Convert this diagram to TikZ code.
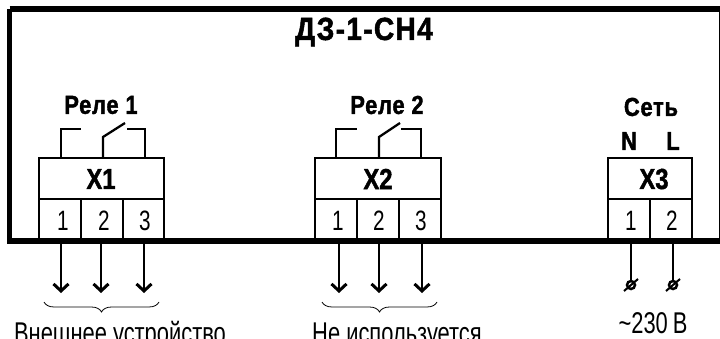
\documentclass[tikz,border=0pt]{standalone}
\usepackage{fontspec}
\setmainfont{Liberation Sans}
\newfontfamily\narrowbold[FakeStretch=0.84,LetterSpace=3,FakeBold=1.5]{Liberation Sans Bold}
\newfontfamily\titlebold[FakeStretch=0.88,LetterSpace=4,FakeBold=1.5]{Liberation Sans Bold}
\newfontfamily\boxbold[FakeStretch=0.82,FakeBold=1.5]{Liberation Sans Bold}
\newfontfamily\narrowreg[FakeStretch=0.74]{Liberation Sans}
\newfontfamily\lowreg[FakeStretch=0.73]{Liberation Sans}
\usetikzlibrary{decorations.pathreplacing,arrows.meta}
\tikzset{
 x=1pt,y=-1pt,
 frameline/.style={line width=5.5pt,black},
 boxline/.style={draw=black,line width=2.5pt,inner sep=0pt,outer sep=0pt,fill=white},
 wire/.style={line width=2.3pt,black},
 flow/.style={line width=2pt,black,-{Straight Barb[length=7pt,width=15pt,line width=3pt]}},
 lead/.style={line width=2pt,black},
 brc/.style={line width=0.8pt,black,decorate,decoration={brace,amplitude=10pt}},
 headtext/.style={font=\narrowbold\fontsize{26}{26}\selectfont,inner sep=0pt},
 boxtext/.style={font=\boxbold\fontsize{29}{29}\selectfont,inner sep=0pt},
 titletext/.style={font=\titlebold\fontsize{32}{32}\selectfont,inner sep=0pt},
 numtext/.style={font=\narrowreg\fontsize{28}{28}\selectfont,inner sep=0pt},
 lowtext/.style={font=\lowreg\fontsize{30}{30}\selectfont,inner sep=0pt,anchor=base},
 termin/.style={circle,draw=black,line width=2.5pt,minimum size=8pt,inner sep=0pt,fill=white},
}
\begin{document}
\begin{tikzpicture}
\clip (0,0) rectangle (720,339);
\fill[white] (0,0) rectangle (720,339);
% frame
\coordinate (fa) at (9.5,241); \coordinate (fb) at (9.5,9);
\coordinate (fc) at (720,9); \coordinate (fd) at (720,241); \coordinate (fe) at (7,241);
\draw[frameline] (fb) -- (fc);
\draw[frameline] (fb) -- (fa);
\draw[line width=2.5pt] (fc) -- (fd);
\node[titletext] (t) at (364,32) {ДЗ-1-СН4};
% X1
\node[boxline,minimum width=125pt,minimum height=41pt] (x1) at (101.5,178.5) {};
\node[boxtext] (x1t) at (101,179) {Х1};
\node[boxline,minimum width=42pt,minimum height=42pt] (x11) at (60,220) {};
\node[boxline,minimum width=42pt,minimum height=42pt] (x12) at (102,220) {};
\node[boxline,minimum width=41pt,minimum height=42pt] (x13) at (143.5,220) {};
\node[numtext] (x11t) at (63,221) {1};
\node[numtext] (x12t) at (104,221) {2};
\node[numtext] (x13t) at (145,221) {3};
\node[headtext] (r1) at (101,105) {Реле 1};
\coordinate (a1) at (61,158); \coordinate (a2) at (61,129); \coordinate (a3) at (81,129);
\coordinate (b1) at (103,158); \coordinate (b2) at (103,137); \coordinate (b3) at (125,123);
\coordinate (c1) at (145,158); \coordinate (c2) at (145,129); \coordinate (c3) at (127,129);
\draw[wire] (a1) -- (a2) -- (a3);
\draw[wire] (b1) -- (b2) -- (b3);
\draw[wire] (c1) -- (c2) -- (c3);
\coordinate (d1) at (61,241); \coordinate (d2) at (101,241); \coordinate (d3) at (144,241);
\coordinate (e1) at (61,293); \coordinate (e2) at (101,293); \coordinate (e3) at (144,293);
\draw[flow] (d1) -- (e1); \draw[flow] (d2) -- (e2); \draw[flow] (d3) -- (e3);
\coordinate (g1) at (44,302); \coordinate (g2) at (159,302);
\draw[brc] (g2) -- (g1);
\node[lowtext] (l1) at (120,343) {Внешнее устройство};
% X2
\node[boxline,minimum width=126pt,minimum height=41pt] (x2) at (378,178.5) {};
\node[boxtext] (x2t) at (378,179) {Х2};
\node[boxline,minimum width=42pt,minimum height=42pt] (x21) at (336,220) {};
\node[boxline,minimum width=42pt,minimum height=42pt] (x22) at (378,220) {};
\node[boxline,minimum width=42pt,minimum height=42pt] (x23) at (420,220) {};
\node[numtext] (x21t) at (338,221) {1};
\node[numtext] (x22t) at (379,221) {2};
\node[numtext] (x23t) at (421,221) {3};
\node[headtext] (r2) at (387,105) {Реле 2};
\coordinate (h1) at (336,158); \coordinate (h2) at (336,129); \coordinate (h3) at (357,129);
\coordinate (i1) at (379,158); \coordinate (i2) at (379,137); \coordinate (i3) at (400,123);
\coordinate (j1) at (421,158); \coordinate (j2) at (421,129); \coordinate (j3) at (401,129);
\draw[wire] (h1) -- (h2) -- (h3);
\draw[wire] (i1) -- (i2) -- (i3);
\draw[wire] (j1) -- (j2) -- (j3);
\coordinate (k1) at (339,241); \coordinate (k2) at (379,241); \coordinate (k3) at (422,241);
\coordinate (m1) at (339,293); \coordinate (m2) at (379,293); \coordinate (m3) at (422,293);
\draw[flow] (k1) -- (m1); \draw[flow] (k2) -- (m2); \draw[flow] (k3) -- (m3);
\coordinate (n1) at (322,302); \coordinate (n2) at (437,302);
\draw[brc] (n2) -- (n1);
\node[lowtext] (l2) at (397,343) {Не используется};
% X3
\node[boxline,minimum width=84pt,minimum height=41pt] (x3) at (650,178.5) {};
\node[boxtext] (x3t) at (654,179) {Х3};
\node[boxline,minimum width=42pt,minimum height=42pt] (x31) at (629,220) {};
\node[boxline,minimum width=42pt,minimum height=42pt] (x32) at (671,220) {};
\node[numtext] (x31t) at (631,221) {1};
\node[numtext] (x32t) at (672,221) {2};
\node[headtext] (s) at (651,107) {Сеть};
\node[headtext] (nn) at (629,141) {N};
\node[headtext] (ll) at (673,141) {L};
\coordinate (q1) at (631,241); \coordinate (q2) at (673,241);
\coordinate (q3) at (631,285); \coordinate (q4) at (673,285);
\draw[lead] (q1) -- (q3); \draw[lead] (q2) -- (q4);
\node[termin] (p1) at (q3) {};
\node[termin] (p2) at (q4) {};
\coordinate (u1) at (624,291); \coordinate (v1) at (638,279);
\coordinate (u2) at (666,291); \coordinate (v2) at (680,279);
\draw[line width=2pt] (u1) -- (v1);
\draw[line width=2pt] (u2) -- (v2);
\node[lowtext] (l3) at (653,333) {\textasciitilde 230\,В};
% bottom line on top
\draw[frameline] (fe) -- (fd);
\end{tikzpicture}
\end{document}
